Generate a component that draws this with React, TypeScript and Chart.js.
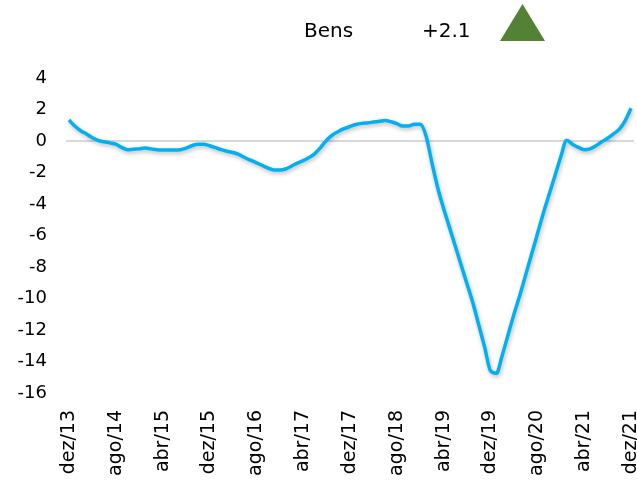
import React, { useEffect, useRef } from 'react';
import { Chart, registerables } from 'chart.js';

Chart.register(...registerables);

const headerLabel = 'Bens';
const headerValue = '+2.1';

const tickLabels = [
  'dez/13', 'ago/14', 'abr/15', 'dez/15', 'ago/16', 'abr/17', 'dez/17',
  'ago/18', 'abr/19', 'dez/19', 'ago/20', 'abr/21', 'dez/21',
];

// monthly values dez/13 .. dez/21 (97 months)
const values = [
  1.33, 0.95, 0.65, 0.45, 0.2, 0.03, -0.05, -0.12, -0.2, -0.4,
  -0.55, -0.52, -0.5, -0.45, -0.5, -0.55, -0.57, -0.57, -0.57, -0.55,
  -0.45, -0.3, -0.2, -0.2, -0.3, -0.42, -0.55, -0.65, -0.73, -0.85,
  -1.05, -1.22, -1.38, -1.55, -1.72, -1.84, -1.84, -1.78, -1.6, -1.4,
  -1.25, -1.05, -0.8, -0.4, 0.05, 0.38, 0.6, 0.78, 0.92, 1.05,
  1.12, 1.15, 1.2, 1.25, 1.3, 1.22, 1.1, 0.95, 0.95, 1.06,
  1.06, 0.3, -1.4, -3.0, -4.3, -5.5, -6.7, -7.9, -9.1, -10.3,
  -11.7, -13.1, -14.6, -14.75, -13.6, -12.3, -11.0, -9.8, -8.5, -7.2,
  -5.9, -4.6, -3.4, -2.2, -1.0, 0.05, -0.2, -0.4, -0.55, -0.5,
  -0.3, -0.05, 0.17, 0.45, 0.75, 1.3, 2.08,
];

const yMin = -16;
const yMax = 4;
const yStep = 2;

const FONT = '"DejaVu Sans", sans-serif';

export default function App() {
  const canvasRef = useRef<HTMLCanvasElement | null>(null);

  useEffect(() => {
    const canvas = canvasRef.current;
    if (!canvas) return;

    const shadowPlugin = {
      id: 'lineShadow',
      beforeDatasetsDraw(chart: any) {
        const ctx = chart.ctx;
        ctx.save();
        ctx.shadowColor = 'rgba(0,0,0,0.28)';
        ctx.shadowBlur = 4;
        ctx.shadowOffsetX = 1;
        ctx.shadowOffsetY = 2;
      },
      afterDatasetsDraw(chart: any) {
        chart.ctx.restore();
      },
    };

    const chart = new Chart(canvas, {
      type: 'line',
      data: {
        labels: values.map((_, i) => String(i)),
        datasets: [
          {
            data: values,
            borderColor: '#00B0F0',
            borderWidth: 3.5,
            pointRadius: 0,
            cubicInterpolationMode: 'monotone',
            fill: false,
          },
        ],
      },
      options: {
        responsive: false,
        animation: false,
        layout: { padding: { top: 78, right: 3, left: 0, bottom: 0 } },
        plugins: {
          legend: { display: false },
          tooltip: { enabled: false },
        },
        scales: {
          x: {
            type: 'category',
            offset: true,
            grid: { display: false, drawTicks: false },
            border: { display: false },
            ticks: {
              autoSkip: false,
              maxRotation: 90,
              minRotation: 90,
              padding: 17,
              color: '#000',
              font: { family: FONT, size: 19 },
              callback: (_v: any, i: number) => (i % 8 === 0 ? tickLabels[i / 8] : null),
            },
            afterFit: (s: any) => {
              s.height = 87;
              s.paddingLeft = 0;
              s.paddingRight = 0;
            },
          },
          y: {
            min: yMin,
            max: yMax,
            grid: {
              drawTicks: false,
              lineWidth: 2,
              color: (c: any) => (c.tick && c.tick.value === 0 ? '#d9d9d9' : 'rgba(0,0,0,0)'),
            },
            border: { display: false },
            ticks: {
              stepSize: yStep,
              padding: 19,
              color: '#000',
              font: { family: FONT, size: 18 },
            },
            afterFit: (s: any) => {
              s.width = 66;
              s.paddingTop = 0;
              s.paddingBottom = 0;
            },
          },
        },
      },
      plugins: [shadowPlugin],
    });

    return () => chart.destroy();
  }, []);

  return (
    <div style={{ position: 'fixed', left: 0, top: 0, width: 637, height: 480, background: '#fff', overflow: 'hidden' }}>
      <canvas ref={canvasRef} width={637} height={480} style={{ position: 'absolute', left: 0, top: 0 }} />
      <div style={{ position: 'absolute', left: 304, top: 18, fontFamily: FONT, fontSize: 20, color: '#000' }}>{headerLabel}</div>
      <div style={{ position: 'absolute', left: 422, top: 18, fontFamily: FONT, fontSize: 20, color: '#000' }}>{headerValue}</div>
      <svg style={{ position: 'absolute', left: 498, top: 2 }} width={50} height={42}>
        <polygon points="2,39 47,39 24.5,2" fill="#548235" />
      </svg>
    </div>
  );
}
